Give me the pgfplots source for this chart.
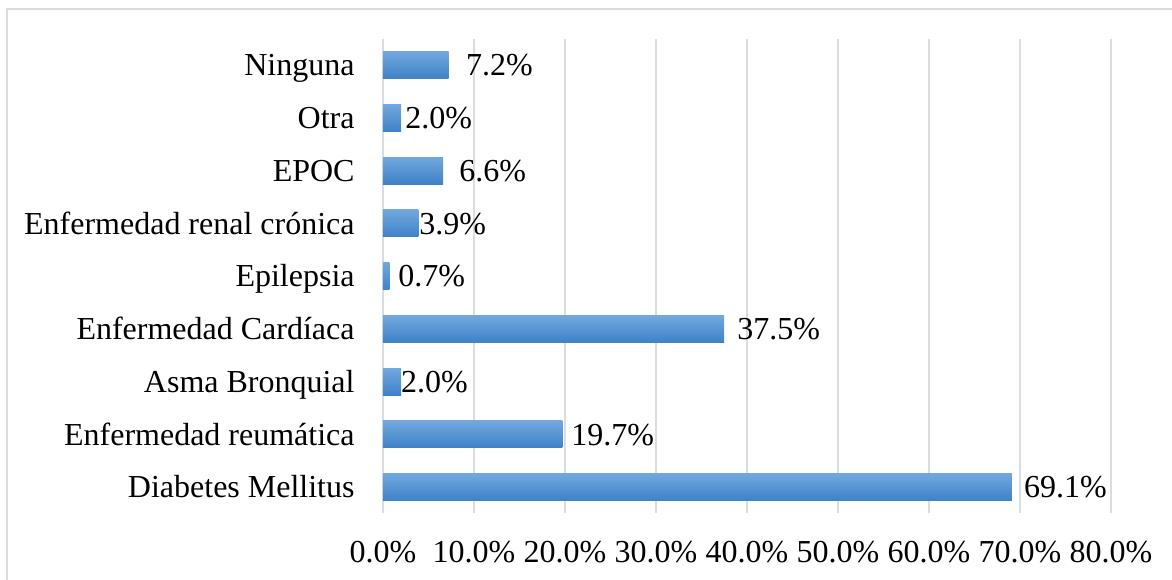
\documentclass[border=0pt]{standalone}
\usepackage{fontspec}
\setmainfont{Liberation Serif}
\usepackage{pgfplots}
\pgfplotsset{compat=1.18}
\definecolor{gridc}{RGB}{217,221,226}
\definecolor{barTop}{RGB}{114,168,222}
\definecolor{barBot}{RGB}{62,130,200}
\begin{document}
\fontsize{16}{19}\selectfont
\begin{tikzpicture}
\useasboundingbox (-191.5pt,-32.8pt) rectangle (394.5pt,256.7pt);
\draw[gridc, line width=0.8pt] (-188pt,-40pt) -- (-188pt,252.2pt) -- (400pt,252.2pt);
\begin{axis}[
  at={(0,0)}, anchor=south west,
  width=364pt, height=237.4pt, scale only axis,
  xmin=0, xmax=80, ymin=-0.5, ymax=8.5,
  ytick={0,...,8},
  yticklabels={Diabetes Mellitus, Enfermedad reumática, Asma Bronquial, Enfermedad Cardíaca, Epilepsia, Enfermedad renal crónica, EPOC, Otra, Ninguna},
  xtick={0,10,...,80},
  xticklabels={0.0\%,10.0\%,20.0\%,30.0\%,40.0\%,50.0\%,60.0\%,70.0\%,80.0\%},
  axis line style={draw=none},
  major tick length=0pt,
  xmajorgrids, ymajorgrids=false,
  grid style={draw=gridc, line width=1pt},
  yticklabel style={anchor=base east, inner sep=0pt, xshift=-14pt, yshift=-5.4pt},
  xticklabel style={anchor=north, inner sep=0pt, yshift=-13.5pt},
  clip=false,
  barsty/.style={xbar, bar width=13.5pt, bar shift=0pt, draw=none, top color=barTop, bottom color=barBot},
]
\addplot[barsty] coordinates {(69.1,0)};
\addplot[barsty] coordinates {(19.7,1)};
\addplot[barsty] coordinates {(2.0,2)};
\addplot[barsty] coordinates {(37.5,3)};
\addplot[barsty] coordinates {(0.7,4)};
\addplot[barsty] coordinates {(3.9,5)};
\addplot[barsty] coordinates {(6.6,6)};
\addplot[barsty] coordinates {(2.0,7)};
\addplot[barsty] coordinates {(7.2,8)};
\addplot[only marks, mark=none, nodes near coords, point meta=explicit symbolic,
  nodes near coords style={anchor=base west, inner sep=0pt, text=black, yshift=-5.4pt}]
  table[meta=label] {
x y label
70.4 0 69.1\%
20.66 1 19.7\%
1.94 2 2.0\%
38.9 3 37.5\%
1.65 4 0.7\%
3.96 5 3.9\%
8.35 6 6.6\%
2.42 7 2.0\%
9.09 8 7.2\%
};
\end{axis}
\end{tikzpicture}
\end{document}
